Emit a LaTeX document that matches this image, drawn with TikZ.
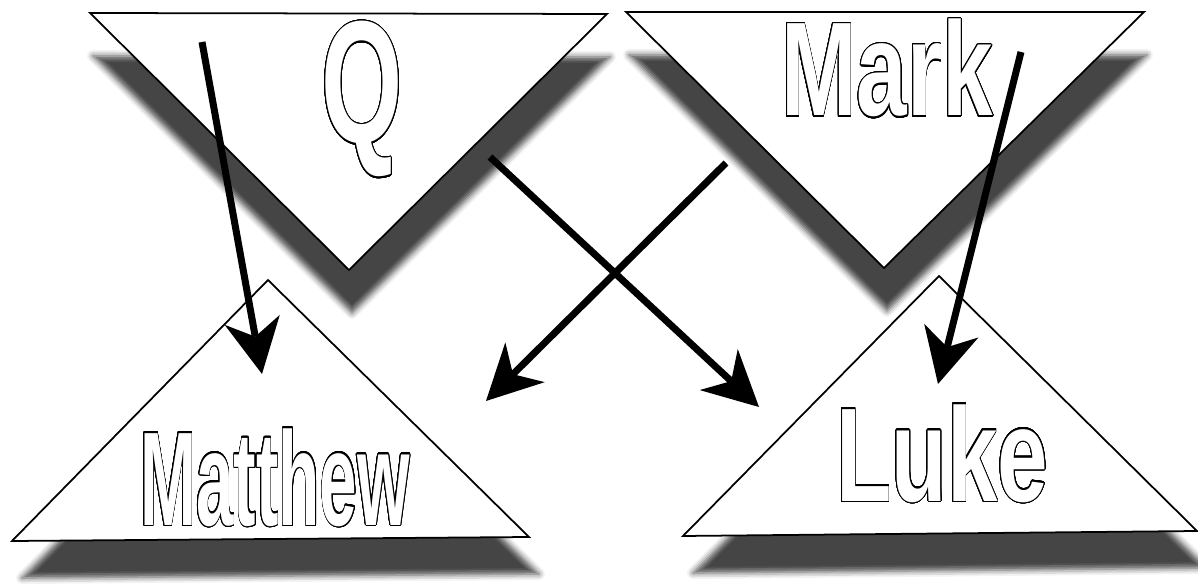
\documentclass[tikz,border=0pt]{standalone}
\usepackage{fontspec}
\usepackage{contour}
\usetikzlibrary{arrows.meta,shadows.blur}
\newfontfamily\gospelfont{Liberation Sans}
\contourlength{0.7pt}
\contournumber{32}
% 空心字：横向压缩、白字黑边
\newcommand{\gospel}[3]{\scalebox{#1}[1]{\gospelfont\bfseries\fontsize{#2}{#2}\selectfont\contour{black}{\textcolor{white}{#3}}}}
\begin{document}
\begin{tikzpicture}[x=0.02cm, y=-0.02cm,
        tri/.style={draw=black, fill=white, line width=1pt, line join=miter},
        topshadow/.style={blur shadow={shadow xshift=0.06cm, shadow yshift=-0.86cm, shadow blur radius=0.12cm, shadow opacity=73}},
        lowshadow/.style={blur shadow={shadow xshift=0.2cm, shadow yshift=-0.74cm, shadow blur radius=0.12cm, shadow opacity=73}},
        gospeltext/.style={inner sep=0pt, anchor=base},
        bigarrow/.style={draw=black, line width=0.14cm, -{Stealth[length=1.1cm, width=1.12cm, inset=0.34cm, line width=0pt, fill=black]}}]
        \useasboundingbox (0,0) rectangle (1198,584);

        % 三角形顶点
        \coordinate (Q1) at (90,13);
        \coordinate (Q2) at (607,14);
        \coordinate (Q3) at (349,270);
        \coordinate (K1) at (626,12);
        \coordinate (K2) at (1144,12);
        \coordinate (K3) at (884,268);
        \coordinate (M1) at (268,280);
        \coordinate (M2) at (529,537);
        \coordinate (M3) at (12,541);
        \coordinate (L1) at (939,276);
        \coordinate (L2) at (1197,531);
        \coordinate (L3) at (683,536);

        % 上面两个倒三角 (带阴影)
        \path[tri, topshadow] (Q1) -- (Q2) -- (Q3) -- cycle;
        \path[tri, topshadow] (K1) -- (K2) -- (K3) -- cycle;

        % 下面两个正三角
        \path[tri, lowshadow] (M1) -- (M2) -- (M3) -- cycle;
        \path[tri, lowshadow] (L1) -- (L2) -- (L3) -- cycle;

        % 文字
        \node[gospeltext] (q) at (362,143) {\gospel{0.6}{99}{Q}};
        \node[gospeltext] (mark) at (887,116) {\gospel{0.68}{76}{Mark}};
        \node[gospeltext] (matthew) at (275,525) {\gospel{0.505}{76}{Matthew}};
        \node[gospeltext] (luke) at (942,501) {\gospel{0.68}{76}{Luke}};

        % 箭头起点与终点
        \coordinate (qm0) at (202,42);
        \coordinate (qm1) at (262,374);
        \coordinate (ql0) at (490,157);
        \coordinate (ql1) at (759,407);
        \coordinate (km0) at (726,163);
        \coordinate (km1) at (486,401);
        \coordinate (kl0) at (1021,52);
        \coordinate (kl1) at (938,384);

        \draw[bigarrow] (qm0) -- (qm1);
        \draw[bigarrow] (ql0) -- (ql1);
        \draw[bigarrow] (km0) -- (km1);
        \draw[bigarrow] (kl0) -- (kl1);

    \end{tikzpicture}
\end{document}
